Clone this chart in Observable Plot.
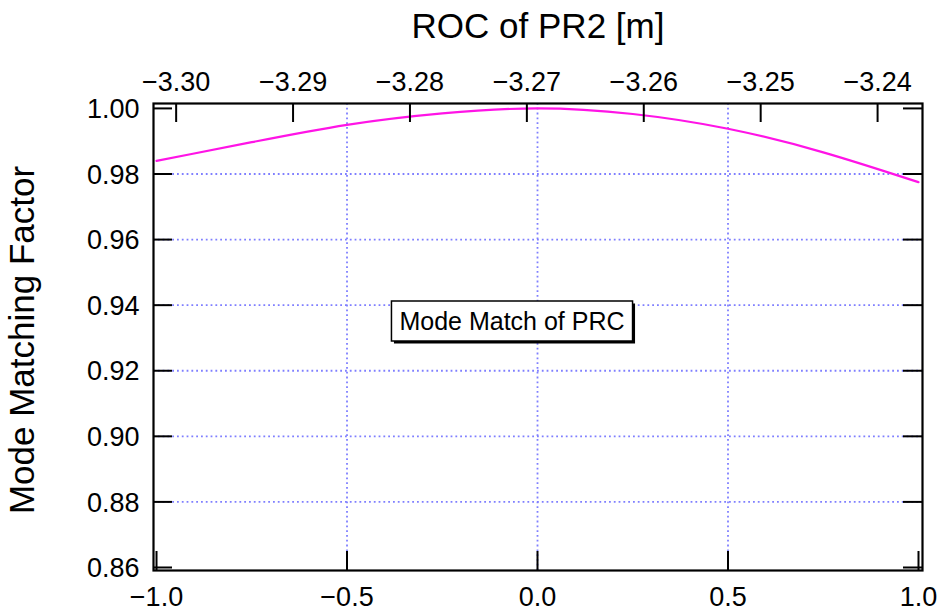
<!DOCTYPE html>
<html><head><meta charset="utf-8">
<script src="https://cdn.jsdelivr.net/npm/d3@7"></script>
<script src="https://cdn.jsdelivr.net/npm/@observablehq/plot@0.6"></script>
<style>body{margin:0;background:#fff;} #chart{width:937px;height:615px;}</style>
</head><body><div id="chart"></div>
<script>
// Data
const offsets = [-1.0, -0.75, -0.5, -0.25, 0.0, 0.25, 0.5, 0.75, 1.0];
const modeMatch = [0.9840, 0.9897, 0.9950, 0.9985, 1.0000, 0.9983, 0.9938, 0.9866, 0.9775];
const xTicks = [-1.0, -0.5, 0.0, 0.5, 1.0];
const yTicks = [0.86, 0.88, 0.90, 0.92, 0.94, 0.96, 0.98, 1.00];
const gridX = [-0.5, 0.0, 0.5];
const gridY = [0.88, 0.90, 0.92, 0.94, 0.96, 0.98];
const rocTicks = [-3.30, -3.29, -3.28, -3.27, -3.26, -3.25, -3.24];
const rocAtZero = -3.26909;   // ROC [m] at offset 0
const rocPerUnit = 0.03259;   // ROC change per unit of offset
const titleTop = ["ROC of PR2 [m]"];
const titleLeft = ["Mode Matching Factor"];
const legendLabel = ["Mode Match of PRC"];

const data = offsets.map((x, i) => ({x, y: modeMatch[i]}));
const rocToX = r => (r - rocAtZero) / rocPerUnit;
const font = "Liberation Sans, Arial, sans-serif";
const W = 937, H = 615, mL = 153, mR = 15, mT = 103, mB = 45;
const innerW = W - mL - mR, innerH = H - mT - mB;
const tickLen = 19;

const plot = Plot.plot({
  width: W, height: H,
  marginLeft: mL, marginRight: mR, marginTop: mT, marginBottom: mB,
  style: {fontFamily: font, background: "white", color: "black"},
  x: {domain: [-1.0079, 1.0105], axis: null},
  y: {domain: [0.85908, 1.0015], axis: null},
  marks: [
    Plot.ruleX(gridX, {x: d => d, stroke: "#7f7fff", strokeWidth: 1.8, strokeDasharray: "1.8,3"}),
    Plot.ruleY(gridY, {y: d => d, stroke: "#7f7fff", strokeWidth: 1.8, strokeDasharray: "1.8,3"}),
    Plot.line(data, {x: "x", y: "y", stroke: "#ff14e6", strokeWidth: 2.2, curve: "natural"}),
    // inward ticks
    Plot.tickX(xTicks, {x: d => d, insetTop: innerH - tickLen, stroke: "black", strokeWidth: 2}),
    Plot.tickX(rocTicks, {x: rocToX, insetBottom: innerH - tickLen, stroke: "black", strokeWidth: 2}),
    Plot.tickY(yTicks, {y: d => d, insetRight: innerW - tickLen, stroke: "black", strokeWidth: 2}),
    Plot.tickY(yTicks, {y: d => d, insetLeft: innerW - tickLen, stroke: "black", strokeWidth: 2}),
    Plot.frame({stroke: "black", strokeWidth: 2.2}),
    // tick labels
    Plot.text(xTicks, {x: d => d, text: d3.format(".1f"), frameAnchor: "bottom", lineAnchor: "middle", dy: 27, fontSize: 27, fill: "black"}),
    Plot.text(rocTicks, {x: rocToX, text: d3.format(".2f"), frameAnchor: "top", lineAnchor: "middle", dy: -21, fontSize: 27, fill: "black"}),
    Plot.text(yTicks, {y: d => d, text: d3.format(".2f"), frameAnchor: "left", textAnchor: "end", lineAnchor: "middle", dx: -14, dy: 1, fontSize: 27, fill: "black"}),
    // titles
    Plot.text(titleTop, {frameAnchor: "top", textAnchor: "middle", lineAnchor: "middle", dy: -77, fontSize: 35, fill: "black", text: d => d}),
    Plot.text(titleLeft, {frameAnchor: "left", textAnchor: "middle", lineAnchor: "middle", rotate: -90, dx: -131, dy: 3, fontSize: 35, fill: "black", text: d => d}),
    // legend
    Plot.text(legendLabel, {frameAnchor: "middle", textAnchor: "middle", lineAnchor: "middle", dx: -26, dy: -15, fontSize: 25, fill: "black", text: d => d})
  ]
});
document.getElementById("chart").appendChild(plot);

// legend box behind the legend text
const legendText = Array.from(plot.querySelectorAll("text")).find(t => t.textContent === legendLabel[0]);
if (legendText) {
  const b = legendText.getBBox();
  const parent = legendText.parentNode;
  const ns = "http://www.w3.org/2000/svg";
  const padX = 8, padY = 6;
  const shadow = document.createElementNS(ns, "rect");
  shadow.setAttribute("x", b.x - padX + 2.5);
  shadow.setAttribute("y", b.y - padY + 2.5);
  shadow.setAttribute("width", b.width + 2 * padX);
  shadow.setAttribute("height", b.height + 2 * padY);
  shadow.setAttribute("fill", "black");
  const box = document.createElementNS(ns, "rect");
  box.setAttribute("x", b.x - padX);
  box.setAttribute("y", b.y - padY);
  box.setAttribute("width", b.width + 2 * padX);
  box.setAttribute("height", b.height + 2 * padY);
  box.setAttribute("fill", "white");
  box.setAttribute("stroke", "black");
  box.setAttribute("stroke-width", 1.5);
  const t = legendText.getAttribute("transform");
  if (t) { shadow.setAttribute("transform", t); box.setAttribute("transform", t); }
  parent.insertBefore(shadow, legendText);
  parent.insertBefore(box, legendText);
}
</script>
</body></html>
